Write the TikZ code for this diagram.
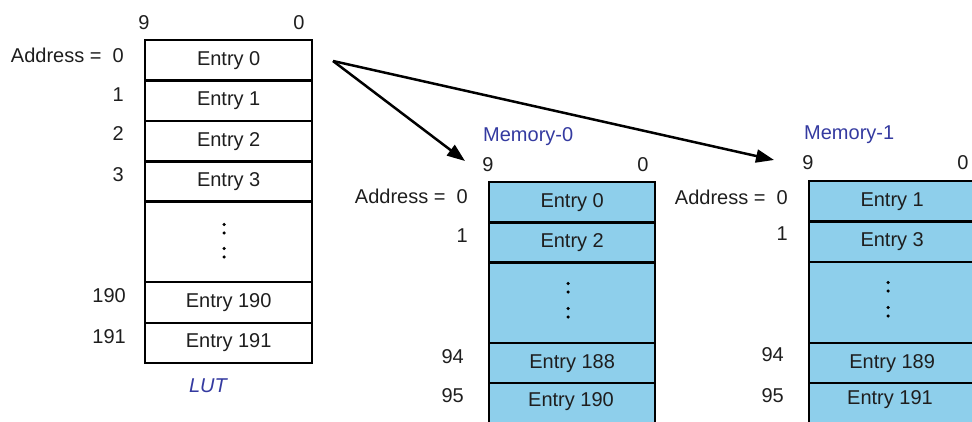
\documentclass[tikz,border=0pt]{standalone}
\usepackage{fontspec}
\setmainfont{Liberation Sans}
\usetikzlibrary{arrows.meta}
\definecolor{memblue}{RGB}{142,207,235}
\definecolor{lblblue}{RGB}{52,58,160}
\definecolor{txt}{RGB}{30,30,30}
\begin{document}
\begin{tikzpicture}[x=1pt,y=-1pt,
  every node/.style={font=\fontsize{20}{23}\selectfont, inner sep=0pt, text=txt},
  cell/.style={draw=black, line width=2.4pt, minimum width=167pt, minimum height=40.5pt, anchor=north west},
  mcell/.style={cell, fill=memblue, minimum width=166pt},
  num/.style={anchor=east},
  bit/.style={anchor=center},
  title/.style={text=lblblue, anchor=west},
  conn/.style={line width=2.5pt, -{Triangle[length=18pt,width=13pt]}},
  dotc/.style={circle, fill=black, inner sep=0pt, minimum size=3.5pt}
]
\useasboundingbox (0,0) rectangle (972,422);
\begin{scope}
\clip (0,0) rectangle (972,422);
% LUT
\node[cell] (l0) at (144,39) {Entry 0};
\node[cell] (l1) at (144,79.5) {Entry 1};
\node[cell] (l2) at (144,120) {Entry 2};
\node[cell] (l3) at (144,160) {Entry 3};
\node[cell, minimum height=80.5pt] (ld) at (144,200.5) {};
\node[cell] (l190) at (144,281) {Entry 190};
\node[cell] (l191) at (144,321.5) {Entry 191};
\node[dotc] (ld1) at (224,224.5) {};
\node[dotc] (ld2) at (224,233) {};
\node[dotc] (ld3) at (224,248.5) {};
\node[dotc] (ld4) at (224,257) {};
% Memory-0
\node[mcell] (a0) at (488,181) {Entry 0};
\node[mcell] (a1) at (488,221.5) {Entry 2};
\node[mcell, minimum height=80.5pt] (ad) at (488,261.5) {};
\node[mcell, minimum height=40pt] (a94) at (488,342) {Entry 188};
\node[mcell, minimum height=50pt] (a95) at (488,382) {};
\node (a95t) at (571,402) {Entry 190};
\node[dotc] (ad1) at (568,283.5) {};
\node[dotc] (ad2) at (568,292) {};
\node[dotc] (ad3) at (568,308.5) {};
\node[dotc] (ad4) at (568,317) {};
% Memory-1
\node[mcell] (b0) at (808,180) {Entry 1};
\node[mcell] (b1) at (808,220.5) {Entry 3};
\node[mcell, minimum height=81pt] (bd) at (808,261) {};
\node[mcell, minimum height=40pt] (b94) at (808,342) {Entry 189};
\node[mcell, minimum height=50pt] (b95) at (808,382) {};
\node (b95t) at (890,400) {Entry 191};
\node[dotc] (bd1) at (888,282.5) {};
\node[dotc] (bd2) at (888,291) {};
\node[dotc] (bd3) at (888,307.5) {};
\node[dotc] (bd4) at (888,316) {};
\end{scope}
% LUT labels
\node[bit] (lb9) at (144,23) {9};
\node[bit] (lb0) at (299,23) {0};
\node[num] (la0) at (124,55) {Address =\ \ 0};
\node[num] (la1) at (124,95) {1};
\node[num] (la2) at (124,134) {2};
\node[num] (la3) at (124,175) {3};
\node[num] (la190) at (126,296) {190};
\node[num] (la191) at (126,337) {191};
\node[text=lblblue, font=\fontsize{20}{23}\selectfont\itshape] (lut) at (208,386) {LUT};
% Memory-0 labels
\node[title] (m0) at (483,137) {Memory-0};
\node[bit] (ab9) at (488,165) {9};
\node[bit] (ab0) at (643,165) {0};
\node[num] (aa0) at (468,196) {Address =\ \ 0};
\node[num] (aa1) at (468,236) {1};
\node[num] (aa94) at (464,357) {94};
\node[num] (aa95) at (464,396) {95};
% Memory-1 labels
\node[title] (m1) at (804,135) {Memory-1};
\node[bit] (bb9) at (808,163) {9};
\node[bit] (bb0) at (963,163) {0};
\node[num] (ba0) at (788,197) {Address =\ \ 0};
\node[num] (ba1) at (788,234) {1};
\node[num] (ba94) at (784,355) {94};
\node[num] (ba95) at (784,396) {95};
% arrows
\coordinate (src) at (333,61);
\coordinate (t0) at (465,161);
\coordinate (t1) at (774,160);
\draw[conn] (src) -- (t0);
\draw[conn] (src) -- (t1);
\end{tikzpicture}
\end{document}
